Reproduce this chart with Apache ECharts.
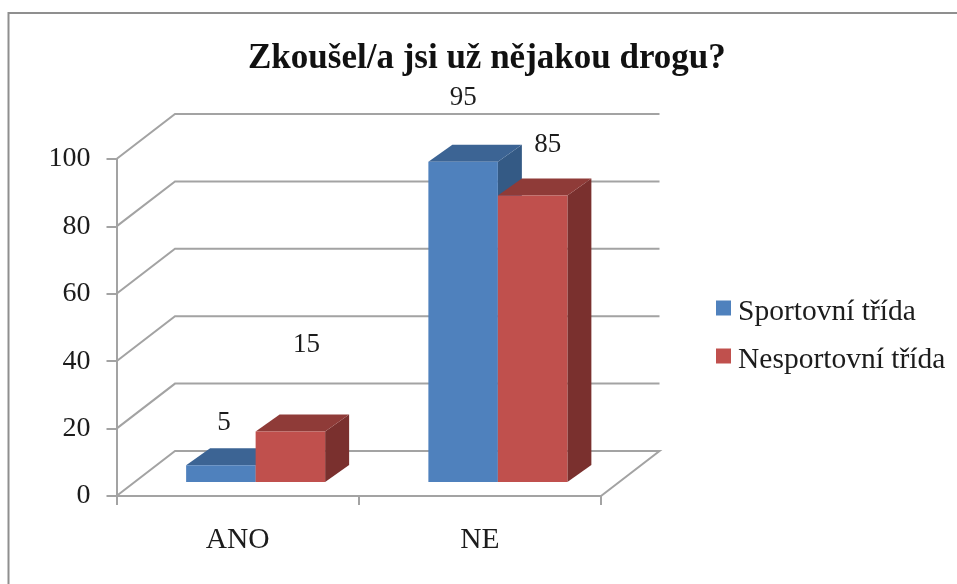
<!DOCTYPE html>
<html>
<head>
<meta charset="utf-8">
<style>
html,body{margin:0;padding:0;background:#fff;width:957px;height:584px;overflow:hidden}
#chart{position:absolute;left:0;top:0;width:957px;height:584px;filter:blur(0.45px)}
</style>
<script src="https://cdn.jsdelivr.net/npm/echarts@6/dist/echarts.min.js"></script>
</head>
<body>
<div id="chart"></div>
<script>
const titleText = 'Zkoušel/a jsi už nějakou drogu?';
const categories = ['ANO', 'NE'];
const sportovni = [5, 95];
const nesportovni = [15, 85];
const yTicks = [0, 20, 40, 60, 80, 100];

const FONT = '"Liberation Serif", "Times New Roman", serif';
const TEXT = '#1c1c1c';
const LINE = '#a3a3a3';
const WALL = [58.5, -45];      // depth of the 3D box
const FRONT = [18, -14];       // bars stand this far behind the front edge
const BAR_DEPTH = [24, -17];
const BAR_W = 69.5;
// the source chart's data labels are placed by hand: offset from the bar's front-top centre
const labelOffsets = {
  'Sportovní třída': [[3, -42], [0, -64]],
  'Nesportovní třída': [[16, -87], [15, -51]]
};

const chart = echarts.init(document.getElementById('chart'));

function box(name, values, dir, front, top, side) {
  return {
    type: 'custom', name, z: 5,
    coordinateSystem: 'cartesian2d',
    itemStyle: { color: front },
    data: values.map((v, i) => [i, v]),
    encode: { x: 0, y: 1 },
    renderItem(params, api) {
      const i = api.value(0), v = api.value(1);
      const b = api.coord([i, 0]), t = api.coord([i, v]);
      const x0 = b[0] + FRONT[0] + (dir < 0 ? -BAR_W : 0), x1 = x0 + BAR_W;
      const yb = b[1] + FRONT[1], yt = t[1] + FRONT[1];
      const [dx, dy] = BAR_DEPTH;
      const off = labelOffsets[name][params.dataIndex];
      const poly = (points, fill) => ({ type: 'polygon', shape: { points }, style: { fill } });
      return {
        type: 'group',
        children: [
          poly([[x1, yb], [x1 + dx, yb + dy], [x1 + dx, yt + dy], [x1, yt]], side),
          poly([[x0, yt], [x0 + dx, yt + dy], [x1 + dx, yt + dy], [x1, yt]], top),
          { type: 'rect', shape: { x: x0, y: yt, width: BAR_W, height: yb - yt }, style: { fill: front } },
          { type: 'text', z2: 50, style: {
              text: String(v), x: (x0 + x1) / 2 + off[0], y: yt + off[1],
              align: 'center', verticalAlign: 'middle',
              font: '27px ' + FONT, fill: TEXT } }
        ]
      };
    }
  };
}

const walls = {
  type: 'custom', z: 1, silent: true, legendHoverLink: false,
  coordinateSystem: 'cartesian2d',
  clip: false,
  data: yTicks.map(v => [0, v]),
  encode: { x: 0, y: 1 },
  renderItem(params, api) {
    const v = api.value(1);
    const y = api.coord([0, v])[1];
    const startX = params.coordSys.x, endX = startX + params.coordSys.width;
    const pts = [[startX, y], [startX + WALL[0], y + WALL[1]], [endX + WALL[0], y + WALL[1]]];
    if (v === 0) pts.push([endX, y]);
    return { type: 'polyline', shape: { points: pts },
             style: { stroke: LINE, lineWidth: 2, fill: null } };
  }
};

chart.setOption({
  animation: false,
  backgroundColor: '#fff',
  title: { text: titleText, left: 248, top: 41, padding: 0,
    textStyle: { fontFamily: FONT, fontWeight: 'bold', fontSize: 35, color: '#111' } },
  legend: {
    orient: 'vertical', left: 716, top: 297, padding: 0, itemWidth: 15, itemHeight: 15, itemGap: 18,
    icon: 'rect', selectedMode: false,
    data: ['Sportovní třída', 'Nesportovní třída'],
    formatter: '{a|{name}}',
    textStyle: { rich: { a: { fontFamily: FONT, fontSize: 29.5, color: TEXT, padding: [8, 0, 0, 2] } } }
  },
  grid: { left: 116.5, right: 356, top: 159, bottom: 88, containLabel: false },
  xAxis: {
    type: 'category', data: categories,
    boundaryGap: true,
    axisLine: { lineStyle: { color: LINE, width: 2 } },
    axisTick: { show: true, alignWithLabel: false, length: 9, lineStyle: { color: LINE, width: 2 } },
    axisLabel: { fontFamily: FONT, fontSize: 29.5, color: TEXT, margin: 29 }
  },
  yAxis: {
    type: 'value', min: 0, max: 100, interval: 20,
    splitLine: { show: false },
    axisLine: { show: true, lineStyle: { color: LINE, width: 2 } },
    axisTick: { show: true, length: 10, lineStyle: { color: LINE, width: 2 } },
    axisLabel: { fontFamily: FONT, fontSize: 28, color: TEXT, margin: 26 }
  },
  graphic: [
    { type: 'polyline', silent: true, z: 0,
      shape: { points: [[8.5, 584], [8.5, 13], [957, 13]] },
      style: { stroke: '#8f8f8f', lineWidth: 2, fill: null } }
  ],
  series: [
    walls,
    box('Sportovní třída', sportovni, -1, '#4f81bd', '#3c6494', '#345a85'),
    box('Nesportovní třída', nesportovni, 1, '#c0504d', '#8f3b38', '#7a302e')
  ]
});
</script>
</body>
</html>
